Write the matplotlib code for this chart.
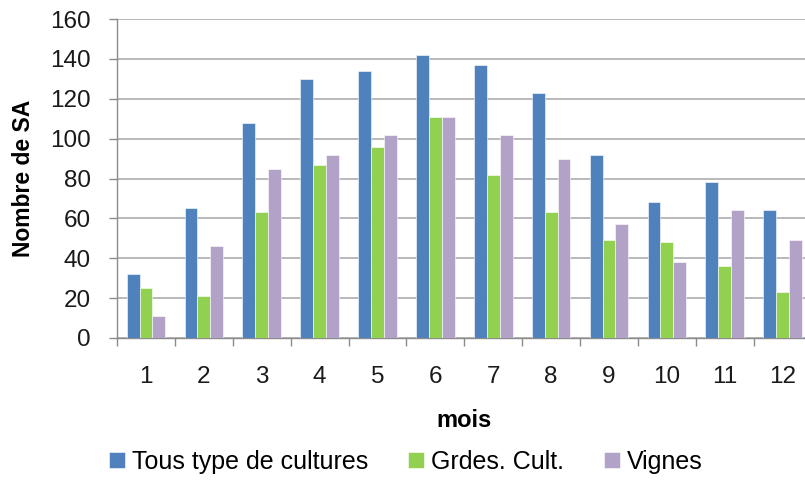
import numpy as np
import matplotlib.pyplot as plt

# Données
mois = [1, 2, 3, 4, 5, 6, 7, 8, 9, 10, 11, 12]
tous_types = [32, 65, 108, 130, 134, 142, 137, 123, 92, 68, 78, 64]
grdes_cult = [25, 21, 63, 87, 96, 111, 82, 63, 49, 48, 36, 23]
vignes = [11, 46, 85, 92, 102, 111, 102, 90, 57, 38, 64, 49]

series = ["Tous type de cultures", "Grdes. Cult.", "Vignes"]
couleurs = ["#4F81BD", "#92D050", "#B3A2C7"]

plt.rcParams['font.family'] = ['Liberation Sans', 'DejaVu Sans']

fig = plt.figure(figsize=(8.05, 4.8), dpi=100)
ax = fig.add_axes([117 / 805, 1 - 338 / 480, (811.6 - 117) / 805, (338 - 19) / 480])

x = np.arange(len(mois))
w = 1 / 4.5
for i, (vals, nom, c) in enumerate(zip([tous_types, grdes_cult, vignes], series, couleurs)):
    ax.bar(x + (i - 1) * w, vals, width=w, color=c, label=nom,
           edgecolor='white', linewidth=0.4, zorder=3)

ax.set_xlim(-0.5, len(mois) - 0.5)
ax.set_ylim(0, 160)
ax.set_yticks(np.arange(0, 161, 20))

# graduations aux limites des catégories, étiquettes au centre
ax.set_xticks(np.arange(-0.5, len(mois), 1))
ax.set_xticklabels([])
ax.set_xticks(x, minor=True)
ax.set_xticklabels([str(m) for m in mois], minor=True)

gris = '#8C8C8C'
ax.tick_params(axis='x', which='major', direction='out', length=6, width=1, color=gris)
ax.tick_params(axis='x', which='minor', length=0, pad=20, labelsize=17.5, labelcolor='#1a1a1a')
ax.tick_params(axis='y', direction='out', length=6, width=1, color=gris,
               pad=13, labelsize=17.5, labelcolor='#1a1a1a')

ax.grid(axis='y', color='#A6A6A6', linewidth=1.1, zorder=0)
ax.set_axisbelow(True)
for s in ['top', 'right']:
    ax.spines[s].set_visible(False)
for s in ['left', 'bottom']:
    ax.spines[s].set_color(gris)
    ax.spines[s].set_linewidth(1)

ax.set_xlabel('mois', fontsize=17, fontweight='bold', va='center')
ax.xaxis.set_label_coords(0.5, -0.26)
ax.set_ylabel('Nombre de SA', fontsize=16.5, fontweight='bold', va='center', ha='center')
ax.yaxis.set_label_coords(-0.135, 0.5)

fig.legend(loc='center', bbox_to_anchor=(406 / 805, 18 / 480), ncol=3, frameon=False,
           fontsize=18, handlelength=0.62, handleheight=0.58, handletextpad=0.3,
           columnspacing=1.6, borderpad=0)

fig.savefig('out.png', dpi=100)
